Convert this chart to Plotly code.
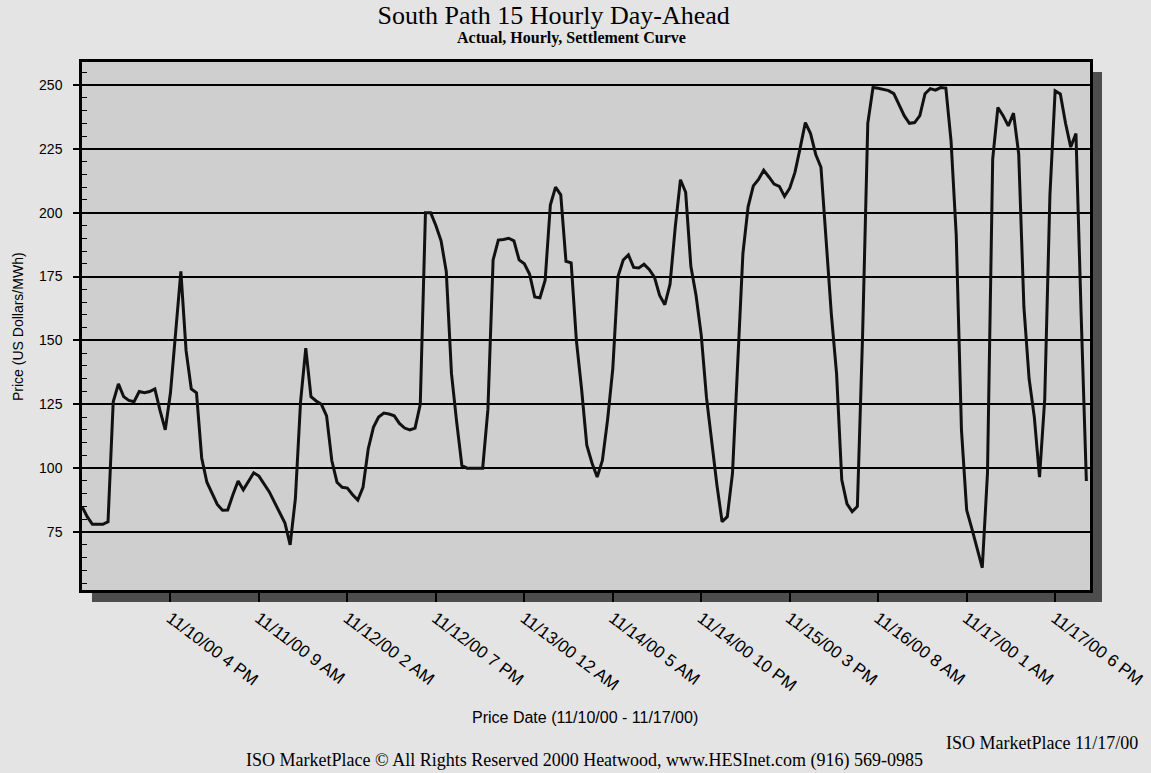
import pandas as pd
import plotly.graph_objects as go

# ---- data (hourly settlement prices, $/MWh) ----
start_time = "2000-11-09 23:00"
price = [85, 81, 78, 78, 78, 79, 126, 133, 128, 126.5,
         126, 130, 129.5, 130, 131, 122.5, 115, 129.5, 154, 177,
         146, 131, 129.5, 104, 94.5, 90, 85.8, 83.5, 83.6, 89.6,
         95, 91.5, 95, 98.2, 96.9, 94, 90.7, 86.6, 82.5, 78.5,
         70, 88, 126, 147, 128, 126.3, 125, 120.5, 103, 94.5,
         92.5, 92.2, 89.6, 87.5, 92.5, 107.5, 116, 120, 121.6, 121.2,
         120.5, 117.5, 115.7, 115, 115.7, 125, 200, 200, 195, 189,
         177, 137, 118, 101, 100, 100, 100, 100, 123, 181.5,
         189.3, 189.5, 190, 189, 181.5, 180, 176, 167, 166.7, 173.6,
         203, 210, 207, 181, 180.4, 150, 131, 109, 102, 96.5,
         103, 119, 139, 175, 181.5, 183.5, 178.6, 178.4, 179.8, 177.8,
         174.8, 167.6, 164, 172, 194.4, 212.9, 208, 179, 167.6, 152,
         127.7, 110, 93.5, 79, 81, 98, 144, 184, 202.3, 210.5,
         213, 216.6, 214, 211.2, 210.3, 206.4, 209.6, 215.8, 225.3, 235.3,
         231, 222.8, 217.8, 190, 160.2, 137, 95.4, 86, 83, 85,
         152, 235, 249, 248.7, 248.3, 247.8, 246.6, 242, 238, 235,
         235.3, 238, 246.6, 248.6, 248, 249, 248.8, 228, 191, 115,
         83.6, 76.3, 69, 61, 98, 221, 241.2, 238, 234, 239,
         223, 163, 135, 120, 96.5, 127, 207, 247.7, 246.5, 235,
         225.7, 231, 160, 95]

tick_times = ["2000-11-10 16:00", "2000-11-11 09:00", "2000-11-12 02:00",
              "2000-11-12 19:00", "2000-11-13 12:00", "2000-11-14 05:00",
              "2000-11-14 22:00", "2000-11-15 15:00", "2000-11-16 08:00",
              "2000-11-17 01:00", "2000-11-17 18:00"]
tick_labels = ["11/10/00 4 PM", "11/11/00 9 AM", "11/12/00 2 AM",
               "11/12/00 7 PM", "11/13/00 12 AM", "11/14/00 5 AM",
               "11/14/00 10 PM", "11/15/00 3 PM", "11/16/00 8 AM",
               "11/17/00 1 AM", "11/17/00 6 PM"]
y_ticks = [75, 100, 125, 150, 175, 200, 225, 250]

times = pd.date_range(start_time, periods=len(price), freq="h")

SANS = "Liberation Sans, Arial, sans-serif"
SERIF = "Liberation Serif, Times New Roman, serif"

fig = go.Figure()
fig.add_trace(go.Scatter(
    x=times, y=price, mode="lines",
    line=dict(color="#111111", width=3),
    showlegend=False, hoverinfo="x+y",
))

# 3-D style shadow bands below and right of the plot frame
shadow = "#4d4d4d"
fig.add_shape(type="rect", xref="paper", yref="paper",
              x0=0.0099, x1=1.0119, y0=-0.0227, y1=0.0,
              line=dict(width=0), fillcolor=shadow, layer="below")
fig.add_shape(type="rect", xref="paper", yref="paper",
              x0=1.0, x1=1.0119, y0=-0.0227, y1=0.981,
              line=dict(width=0), fillcolor=shadow, layer="below")

fig.update_layout(
    width=1151, height=773,
    margin=dict(l=82, r=61, t=62, b=183),
    paper_bgcolor="#e4e4e4",
    plot_bgcolor="#cfcfcf",
    font=dict(family=SANS, color="black", size=13),
    title=dict(text="South Path 15 Hourly Day-Ahead",
               x=0.481, xanchor="center", y=0.981, yanchor="middle",
               font=dict(family=SERIF, size=26, color="black")),
    showlegend=False,
)

fig.update_xaxes(
    range=[start_time, "2000-11-18 00:42"],
    tickmode="array", tickvals=tick_times, ticktext=tick_labels,
    tickangle=37, tickfont=dict(family=SANS, size=17, color="black"),
    ticks="outside", ticklen=9, tickwidth=1.5, tickcolor="black",
    showgrid=False, zeroline=False, automargin=False,
    showline=True, linecolor="black", linewidth=2.5, mirror=True,
)
fig.update_yaxes(
    range=[52.3, 259],
    tickmode="array", tickvals=y_ticks,
    tickfont=dict(family=SANS, size=14, color="black"),
    ticks="outside", ticklen=6, tickwidth=1.5, tickcolor="black",
    ticklabelstandoff=8, automargin=False,
    minor=dict(dtick=5, tick0=0, ticks="inside", ticklen=5,
               tickcolor="black", tickwidth=1.2, showgrid=False),
    showgrid=True, gridcolor="black", gridwidth=2,
    zeroline=False,
    showline=True, linecolor="black", linewidth=2.5, mirror=True,
)

annotations = [
    dict(text="<b>Actual, Hourly, Settlement Curve</b>", x=0.486, y=1.045,
         font=dict(family=SERIF, size=16, color="black")),
    dict(text="Price (US Dollars/MWh)", x=-0.0635, y=0.5, textangle=-90,
         font=dict(family=SANS, size=14, color="black")),
    dict(text="Price Date (11/10/00 - 11/17/00)", x=0.499, y=-0.2424,
         font=dict(family=SANS, size=16, color="black")),
    dict(text="ISO MarketPlace 11/17/00", x=0.952, y=-0.2898,
         font=dict(family=SERIF, size=18, color="black")),
    dict(text="ISO MarketPlace \u00a9 All Rights Reserved 2000 Heatwood, "
              "www.HESInet.com (916) 569-0985", x=0.499, y=-0.322,
         font=dict(family=SERIF, size=18, color="black")),
]
for a in annotations:
    fig.add_annotation(xref="paper", yref="paper", showarrow=False,
                       xanchor="center", yanchor="middle", **a)

fig.write_html(
    "out.html",
    config={"displayModeBar": False},
    post_script="document.body.style.margin='0';"
                "document.body.style.overflow='hidden';",
)
